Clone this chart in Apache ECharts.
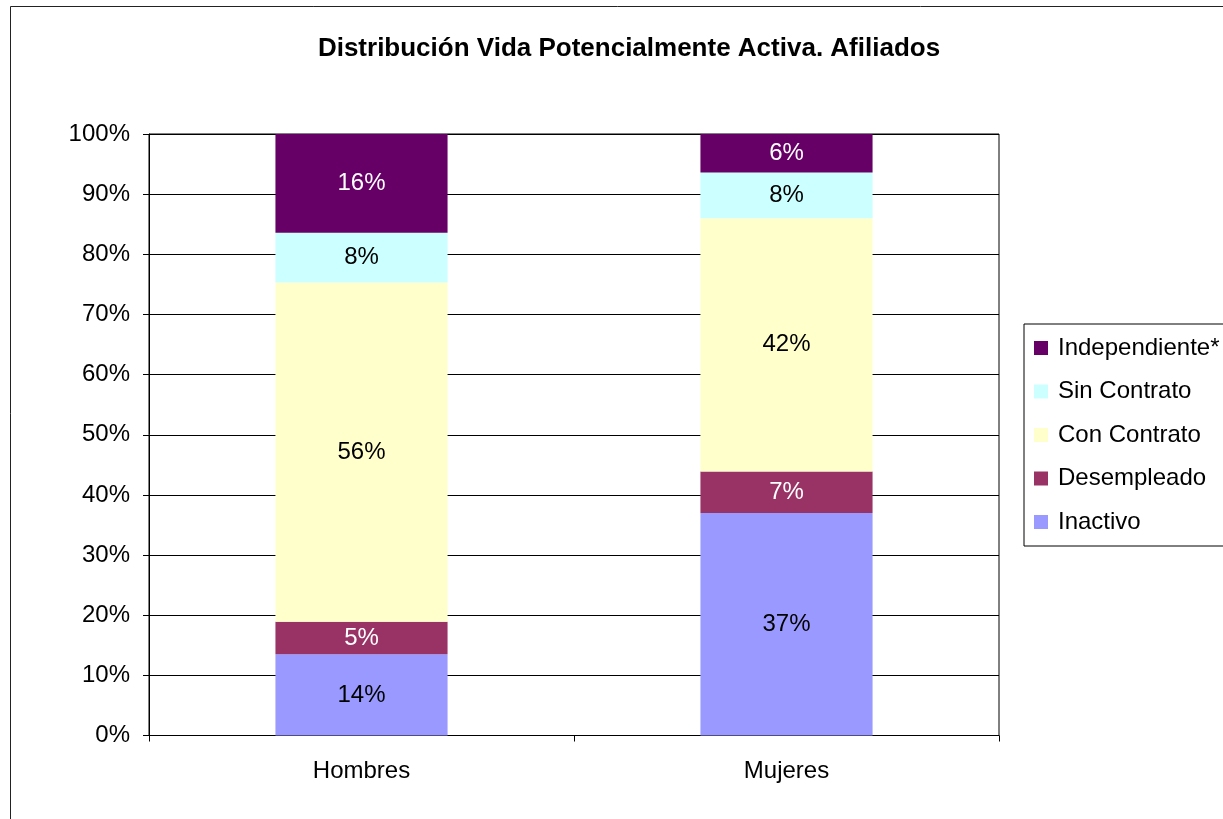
<!DOCTYPE html>
<html>
<head>
<meta charset="utf-8">
<script src="https://cdn.jsdelivr.net/npm/echarts@6/dist/echarts.min.js"></script>
<style>
  html, body { margin: 0; padding: 0; background: #fff; }
  #chart { width: 1223px; height: 819px; }
</style>
</head>
<body>
<div id="chart"></div>
<script>
// categorias y valores (% de cada grupo)
var categorias = ['Hombres', 'Mujeres'];
var inactivo      = [13.5, 37.0];
var desempleado   = [5.4, 6.9];
var conContrato   = [56.4, 42.1];
var sinContrato   = [8.3, 7.6];
var independiente = [16.4, 6.4];
var yTicks = [0, 10, 20, 30, 40, 50, 60, 70, 80, 90, 100];

var fuente = 'Liberation Sans, Arial, sans-serif';

function serie(nombre, datos, color, colorTexto) {
    return {
        name: nombre,
        type: 'bar',
        stack: 'total',
        barWidth: '40.5%',
        data: datos,
        itemStyle: { color: color },
        label: {
            show: true,
            position: 'inside',
            color: colorTexto,
            fontFamily: fuente,
            fontSize: 24,
            formatter: function (p) { return Math.round(p.value) + '%'; }
        }
    };
}

var myChart = echarts.init(document.getElementById('chart'));

var option = {
    animation: false,
    backgroundColor: '#fff',
    title: {
        text: 'Distribución Vida Potencialmente Activa. Afiliados',
        left: 624,
        textAlign: 'center',
        top: 31,
        textStyle: { fontFamily: fuente, fontSize: 26, fontWeight: 'bold', color: '#000' }
    },
    graphic: [{
        type: 'rect',
        shape: { x: 10.5, y: 6.5, width: 1400, height: 1000 },
        style: { fill: 'none', stroke: '#222', lineWidth: 1 },
        silent: true
    }],
    legend: {
        orient: 'vertical',
        left: 1024,
        top: 324,
        padding: [12, 10, 12, 10],
        borderColor: '#000',
        borderWidth: 1,
        itemWidth: 14,
        itemHeight: 14,
        itemGap: 19.5,
        icon: 'rect',
        data: ['Independiente*', 'Sin Contrato', 'Con Contrato', 'Desempleado', 'Inactivo'],
        textStyle: { fontFamily: fuente, fontSize: 24, color: '#000', lineHeight: 24, padding: [0, 0, 0, 5] }
    },
    grid: {
        left: 149,
        right: 224,
        top: 134,
        bottom: 83.5,
        show: true,
        borderColor: '#000',
        borderWidth: 1
    },
    xAxis: {
        type: 'category',
        data: categorias,
        axisLine: { lineStyle: { color: '#000' } },
        axisTick: { show: true, length: 6, lineStyle: { color: '#000' } },
        axisLabel: { fontFamily: fuente, fontSize: 24, color: '#000', margin: 24 }
    },
    yAxis: {
        type: 'value',
        min: yTicks[0],
        max: yTicks[yTicks.length - 1],
        interval: 10,
        axisLine: { show: true, lineStyle: { color: '#000' } },
        axisTick: { show: true, length: 6, lineStyle: { color: '#000' } },
        splitLine: { show: true, lineStyle: { color: '#000', width: 1 } },
        axisLabel: {
            fontFamily: fuente, fontSize: 24, color: '#000', margin: 19,
            formatter: '{value}%'
        }
    },
    series: [
        serie('Inactivo', inactivo, '#9999FF', '#000'),
        serie('Desempleado', desempleado, '#993366', '#fff'),
        serie('Con Contrato', conContrato, '#FFFFCC', '#000'),
        serie('Sin Contrato', sinContrato, '#CCFFFF', '#000'),
        serie('Independiente*', independiente, '#660066', '#fff')
    ]
};

myChart.setOption(option);
</script>
</body>
</html>
